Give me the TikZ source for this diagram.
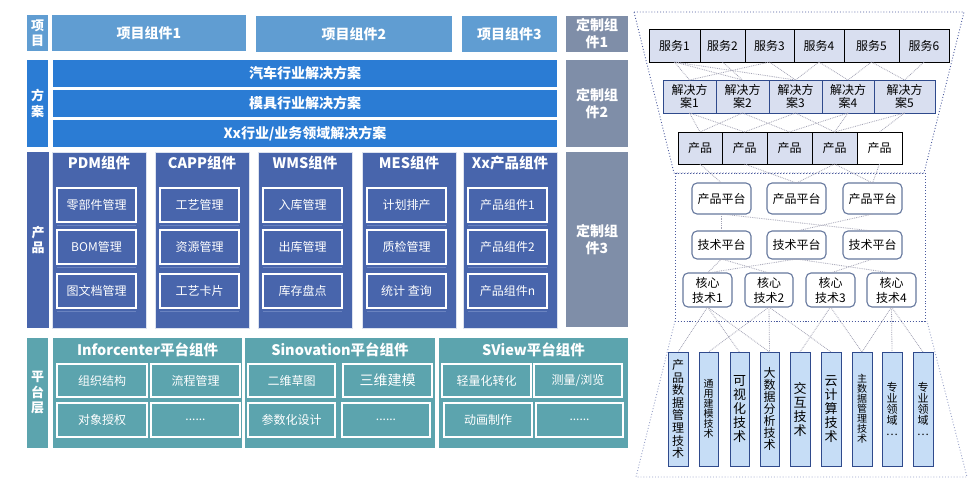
\documentclass[tikz,border=0pt]{standalone}
\usepackage{fontspec}
\setmainfont{Noto Sans CJK SC}
\definecolor{projc}{HTML}{609DD2}
\definecolor{solc}{HTML}{2B7CD4}
\definecolor{prodc}{HTML}{4865AC}
\definecolor{prodedge}{HTML}{DCE2EF}
\definecolor{sepc}{HTML}{6A83C0}
\definecolor{custc}{HTML}{7F8EA8}
\definecolor{platc}{HTML}{5CA4AE}
\definecolor{lav}{HTML}{D9DFF0}
\definecolor{colc}{HTML}{C6DDF6}
\definecolor{navy}{HTML}{2F4A8C}
\definecolor{meshc}{HTML}{A2A2B4}
\definecolor{framec}{HTML}{4A5A9E}
\definecolor{rndc}{HTML}{66789E}
\newcommand\mybox[7]{\node[#2,anchor=north west,minimum width={(#5)-(#3)},minimum height={(#6)-(#4)}] (#1) at (#3,#4) {#7};}
\begin{document}
\begin{tikzpicture}[x=1pt,y=-1pt,
  base/.style={inner sep=0pt,outer sep=0pt,align=center,text=white},
  blk/.style={base,fill=#1,font=\fontsize{14}{17}\selectfont\bfseries},
  vlab/.style={base,fill=#1,font=\fontsize{13}{15.5}\selectfont\bfseries},
  colbox/.style={base,fill=prodc,draw=prodedge,line width=0.8pt},
  ttl/.style={base,font=\fontsize{14.5}{16}\selectfont\bfseries},
  sub/.style={base,draw=white,line width=1.1pt,font=\fontsize{12}{14}\selectfont},
  psub/.style={base,draw=white,line width=1.8pt,font=\fontsize{12}{14}\selectfont},
  platbox/.style={base,fill=platc},
  sep/.style={draw=sepc,line width=0.8pt},
  rt/.style={inner sep=0pt,outer sep=0pt,align=center,text=black,font=\fontsize{12}{13}\selectfont},
  svc/.style={rt,fill=lav,draw=black,line width=0.8pt},
  sol/.style={rt,fill=lav,draw=navy,line width=0.9pt},
  plat/.style={rt,fill=white,draw=rndc,line width=1.1pt,rounded corners=5pt},
  tcol/.style={rt,fill=colc,draw=navy,line width=1pt},
  mesh/.style={draw=meshc,densely dotted,line width=0.8pt},
  frame/.style={draw=framec,dotted,line width=0.9pt},
]
\fill[white] (0,0) rectangle (973,483);
\useasboundingbox (0,0) rectangle (973,483);

% ---------------- left: project row
\mybox{l1}{vlab=projc}{27}{15}{48}{51}{项\\目}
\mybox{p1}{blk=projc}{52}{15}{246}{51}{项目组件1}
\mybox{p2}{blk=projc}{256}{16}{452}{52}{项目组件2}
\mybox{p3}{blk=projc}{462}{16}{557}{52}{项目组件3}
\mybox{c1}{blk=custc}{566}{16}{628}{52}{定制组\\件1}

% ---------------- solutions
\mybox{l2}{vlab=solc}{27}{60}{48}{147}{方\\案}
\mybox{s1}{blk=solc}{53}{60}{557}{87}{汽车行业解决方案}
\mybox{s2}{blk=solc}{53}{90}{557}{117}{模具行业解决方案}
\mybox{s3}{blk=solc}{53}{120}{557}{147}{Xx行业/业务领域解决方案}
\mybox{c2}{blk=custc}{566}{60}{628}{147}{定制组\\件2}

% ---------------- products
\mybox{l3}{vlab=prodc}{27}{152}{49}{328}{产\\品}
\mybox{c3}{blk=custc}{566}{152}{628}{327}{定制组\\件3}
\foreach \n/\x/\t/\a/\b/\c in {pdm/52/PDM组件/零部件管理/BOM管理/图文档管理,
  capp/155/CAPP组件/工艺管理/资源管理/工艺卡片,
  wms/258/WMS组件/入库管理/出库管理/库存盘点,
  mes/362/MES组件/计划排产/质检管理/统计 查询,
  xxp/463/Xx产品组件/产品组件1/产品组件2/产品组件n}{
  \mybox{\n}{colbox}{\x}{152}{\x+94}{328}{}
  \node[ttl] (\n-t) at (\x+47,163) {\t};
  \mybox{\n-a}{sub}{\x+5}{188}{\x+84}{222}{\a}
  \mybox{\n-b}{sub}{\x+5}{230}{\x+84}{264}{\b}
  \mybox{\n-c}{sub}{\x+5}{274}{\x+84}{308}{\c}
  \draw[sep] ([yshift=-3pt]\n-a.south west) -- ([yshift=-3pt]\n-a.south east);
  \draw[sep] ([yshift=-3pt]\n-b.south west) -- ([yshift=-3pt]\n-b.south east);
  \draw[sep] ([yshift=-3pt]\n-c.south west) -- ([yshift=-3pt]\n-c.south east);
}

% ---------------- platform layer
\mybox{l4}{vlab=platc}{27}{338}{48}{448}{平\\台\\层}
\mybox{inf}{platbox}{53}{338}{242}{448}{}
\mybox{sino}{platbox}{245}{338}{435}{448}{}
\mybox{sv}{platbox}{439}{338}{628}{448}{}
\node[ttl] (inf-t) at (147.5,350) {Inforcenter平台组件};
\node[ttl] (sino-t) at (340,350) {Sinovation平台组件};
\node[ttl] (sv-t) at (533.5,350) {SView平台组件};
\mybox{inf-a}{psub}{57}{364}{147}{397}{组织结构}
\mybox{inf-b}{psub}{151}{364}{240}{397}{流程管理}
\mybox{inf-c}{psub}{57}{403}{147}{437}{对象授权}
\mybox{inf-d}{psub}{151}{403}{240}{437}{......}
\mybox{sino-a}{psub}{248}{364}{335}{397}{二维草图}
\mybox{sino-b}{psub}{343}{364}{432}{397}{\fontsize{14}{16}\selectfont 三维建模}
\mybox{sino-c}{psub}{248}{403}{335}{437}{参数化设计}
\mybox{sino-d}{psub}{342}{403}{430}{437}{......}
\mybox{sv-a}{psub}{442}{364}{531}{397}{轻量化转化}
\mybox{sv-b}{psub}{534}{364}{622}{397}{测量/浏览}
\mybox{sv-c}{psub}{444}{403}{532}{437}{动画制作}
\mybox{sv-d}{psub}{536}{403}{623}{437}{......}

% ---------------- right: frames
\draw[frame] (634,12) -- (964,12) -- (924,173) -- (674,173) -- cycle;
\draw[frame] (675,173) rectangle (925,321);
\draw[frame] (675,321) -- (927,321);
\draw[frame,draw=framec!55] (675,321) -- (636,477) -- (967,477) -- (927,321);

% services
\mybox{sv1}{svc}{649}{29}{700}{62}{服务1}
\mybox{sv2}{svc}{700}{29}{745}{62}{服务2}
\mybox{sv3}{svc}{745}{29}{794}{62}{服务3}
\mybox{sv4}{svc}{794}{29}{844}{62}{服务4}
\mybox{sv5}{svc}{844}{29}{899}{62}{服务5}
\mybox{sv6}{svc}{899}{29}{949}{62}{服务6}
% solutions
\mybox{a1}{sol}{663}{80}{716}{113}{解决方\\案1}
\mybox{a2}{sol}{716}{80}{769}{113}{解决方\\案2}
\mybox{a3}{sol}{769}{80}{822}{113}{解决方\\案3}
\mybox{a4}{sol}{822}{80}{874}{113}{解决方\\案4}
\mybox{a5}{sol}{874}{80}{935}{113}{解决方\\案5}
% products
\mybox{r1}{svc}{678}{132}{722}{164}{产品}
\mybox{r2}{svc}{722}{132}{767}{164}{产品}
\mybox{r3}{svc}{767}{132}{812}{164}{产品}
\mybox{r4}{svc}{812}{132}{857}{164}{产品}
\mybox{r5}{svc,fill=white}{857}{132}{902}{164}{产品}
% product platforms
\mybox{pp1}{plat}{692}{183}{751}{214}{产品平台}
\mybox{pp2}{plat}{767}{183}{826}{214}{产品平台}
\mybox{pp3}{plat}{843}{183}{902}{214}{产品平台}
% tech platforms
\mybox{tp1}{plat}{692}{231}{751}{259}{技术平台}
\mybox{tp2}{plat}{767}{231}{826}{259}{技术平台}
\mybox{tp3}{plat}{843}{231}{902}{259}{技术平台}
% core tech
\mybox{k1}{plat,font=\fontsize{12}{15}\selectfont}{683}{273}{732}{307}{核心\\技术1}
\mybox{k2}{plat,font=\fontsize{12}{15}\selectfont}{745}{273}{793}{307}{核心\\技术2}
\mybox{k3}{plat,font=\fontsize{12}{15}\selectfont}{806}{273}{855}{307}{核心\\技术3}
\mybox{k4}{plat,font=\fontsize{12}{15}\selectfont}{867}{273}{916}{307}{核心\\技术4}
% tech columns
\mybox{t1}{tcol,font=\fontsize{12}{12.6}\selectfont}{668}{352}{688}{466}{产\\品\\数\\据\\管\\理\\技\\术}
\mybox{t2}{tcol,font=\fontsize{10}{10}\selectfont}{699}{352}{718}{466}{通\\用\\建\\模\\技\\术}
\mybox{t3}{tcol,font=\fontsize{13}{14}\selectfont}{730}{352}{749}{466}{可\\视\\化\\技\\术}
\mybox{t4}{tcol,font=\fontsize{12}{12}\selectfont}{760}{352}{779}{466}{大\\数\\据\\分\\析\\技\\术}
\mybox{t5}{tcol,font=\fontsize{13}{14}\selectfont}{790}{352}{810}{466}{交\\互\\技\\术}
\mybox{t6}{tcol,font=\fontsize{13}{14}\selectfont}{821}{352}{841}{466}{云\\计\\算\\技\\术}
\mybox{t7}{tcol,font=\fontsize{10}{10}\selectfont}{852}{352}{872}{466}{主\\数\\据\\管\\理\\技\\术}
\mybox{t8}{tcol,font=\fontsize{11}{11}\selectfont}{882}{352}{902}{466}{专\\业\\领\\域\\…}
\mybox{t9}{tcol,font=\fontsize{11}{11}\selectfont}{913}{352}{933}{466}{专\\业\\领\\域\\…}

% mesh connectors
\begin{scope}[on background layer/.style={}]
\foreach \u/\v in {sv1/a1,sv1/a2,sv1/a3,sv2/a2,sv3/a1,sv3/a3,sv4/a3,sv4/a4,sv5/a4,sv5/a5,sv6/a5,
  a1/r1,a1/r2,a2/r1,a2/r3,a3/r2,a3/r4,a4/r4,a4/r3,a5/r4,a5/r5,
  r1/pp1,r2/pp2,r4/pp2,r4/pp3,r5/pp3,
  pp1/tp1,pp1/tp3,pp3/tp2,
  tp1/k1,tp1/k2,tp2/k1,tp2/k4,tp3/k3,
  k1/t1,k1/t3,k1/t4,k2/t2,k2/t4,k2/t6,k3/t5,k3/t7,k4/t7,k4/t8,k4/t9}
  \draw[mesh] (\u.south) -- (\v.north);
\end{scope}
\end{tikzpicture}
\end{document}
